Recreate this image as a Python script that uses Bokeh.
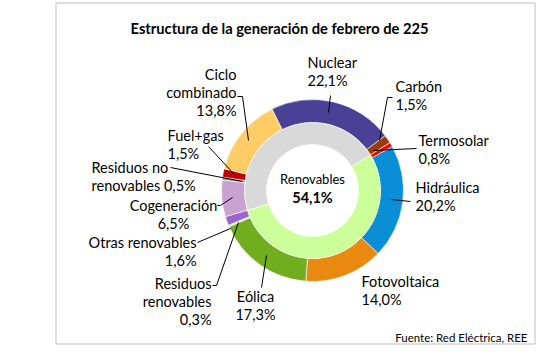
import numpy as np
from bokeh.plotting import figure
from bokeh.models import Range1d, ColumnDataSource
from bokeh.core.properties import value
from bokeh.embed import file_html
from bokeh.resources import INLINE

W, H = 541, 357

title = "Estructura de la generación de febrero de 225"
source_note = "Fuente: Red Eléctrica, REE"

categories = ["Nuclear", "Carbón", "Termosolar", "Hidráulica", "Fotovoltaica", "Eólica",
              "Residuos renovables", "Otras renovables", "Cogeneración",
              "Residuos no renovables", "Fuel+gas", "Ciclo combinado"]
shares = [22.1, 1.5, 0.8, 20.2, 14.0, 17.3, 0.3, 1.6, 6.5, 0.5, 1.5, 13.8]
label_names = ["Nuclear", "Carbón", "Termosolar", "Hidráulica", "Fotovoltaica", "Eólica",
               "Residuos\nrenovables", "Otras renovables", "Cogeneración",
               "Residuos no\nrenovables", "Fuel+gas", "Ciclo\ncombinado"]
pct_same_line = [False, False, False, False, False, False,
                 False, False, False, True, False, False]
colors = ["#4A4196", "#9A3B0C", "#FF0000", "#0A8FD6", "#E9890F", "#70AD1F",
          "#D6E8B8", "#9966CC", "#C9A2D2", "#8C8C8C", "#C00000", "#FFCC66"]

inner_labels = ["Renovables", "No renovables"]
inner_shares = [54.1, 45.9]
inner_colors = ["#CCFF99", "#D9D9D9"]
first_renewable = "Termosolar"

# ---- layout (pixel coordinates, y measured from top) ----
CX, CY = 312, 190
R_OUT, R_MID, R_IN = 91, 68, 46
START_DEG = -26.5   # clockwise from 12 o'clock where first slice begins
LINE_H = 18

label_pos = [(307, 62, "left"), (395, 86, "left"), (418, 140, "left"),
             (415, 187, "left"), (361, 281, "left"), (255, 296, "center"),
             (211, 283, "right"), (196, 242, "right"), (173, 205, "center"),
             (91, 167, "left"), (167, 135, "left"), (236, 74, "right")]

leaders = [
    [(330, 95), (328, 112)],
    [(392, 97), (387, 97), (379, 140)],
    [(416, 148), (373, 150)],
    [(410, 201), (391, 199)],
    None,
    [(266, 255), (261, 287)],
    [(212, 285), (216, 285), (238, 222)],
    [(197, 242), (230, 228)],
    [(217, 205), (220, 205), (232, 197)],
    [(170, 167), (242, 181)],
    [(208, 146), (233, 173)],
    [(237, 96), (242, 96), (248, 140)],
]


def fy(y):
    return H - y


p = figure(width=W, height=H, x_range=Range1d(0, W), y_range=Range1d(0, H),
           min_border=0, toolbar_location=None, output_backend="svg")
p.axis.visible = False
p.grid.visible = False
p.outline_line_color = None
p.background_fill_color = "white"
p.border_fill_color = "white"

# frame
p.quad(left=55.5, right=534.5, top=fy(2.5), bottom=fy(343.5),
       fill_color=None, line_color="#BFBFBF", line_width=1)

# outer ring
total = sum(shares)
cum = np.concatenate([[0], np.cumsum(shares)])
a0 = START_DEG + cum[:-1] / total * 360.0
a1 = START_DEG + cum[1:] / total * 360.0
outer = ColumnDataSource(dict(
    start=np.radians(90 - a0), end=np.radians(90 - a1), color=colors))
p.annular_wedge(x=CX, y=fy(CY), inner_radius=R_MID, outer_radius=R_OUT,
                start_angle="start", end_angle="end", direction="clock",
                fill_color="color", line_color="white", line_width=0.6,
                source=outer)

# inner ring
i0 = a0[categories.index(first_renewable)]
icum = np.concatenate([[0], np.cumsum(inner_shares)])
itot = sum(inner_shares)
ia0 = i0 + icum[:-1] / itot * 360.0
ia1 = i0 + icum[1:] / itot * 360.0
inner = ColumnDataSource(dict(
    start=np.radians(90 - ia0), end=np.radians(90 - ia1), color=inner_colors))
p.annular_wedge(x=CX, y=fy(CY), inner_radius=R_IN, outer_radius=R_MID,
                start_angle="start", end_angle="end", direction="clock",
                fill_color="color", line_color="white", line_width=0.6,
                source=inner)

# leaders
xs, ys = [], []
for ld in leaders:
    if ld is None:
        continue
    xs.append([q[0] for q in ld])
    ys.append([fy(q[1]) for q in ld])
p.multi_line(xs=xs, ys=ys, line_color="black", line_width=1)

# labels
FONT = value("Lato")
rows = {"left": dict(x=[], y=[], t=[]), "center": dict(x=[], y=[], t=[]),
        "right": dict(x=[], y=[], t=[])}
for name, v, same, (lx, ly, al) in zip(label_names, shares, pct_same_line, label_pos):
    pct = f"{v:.1f}".replace(".", ",") + "%"
    lines = name.split("\n")
    if same:
        lines[-1] = lines[-1] + " " + pct
    else:
        lines.append(pct)
    for k, ln in enumerate(lines):
        rows[al]["x"].append(lx)
        rows[al]["y"].append(fy(ly + k * LINE_H))
        rows[al]["t"].append(ln)
for al, d in rows.items():
    if not d["t"]:
        continue
    p.text(x=d["x"], y=d["y"], text=d["t"], text_align=al, text_baseline="middle",
           text_font=FONT, text_font_size="14.5px", text_color="#000000")

# centre
p.text(x=[CX], y=[fy(178)], text=[inner_labels[0]], text_align="center",
       text_baseline="middle", text_font=FONT, text_font_size="13px",
       text_color="#000000")
p.text(x=[CX], y=[fy(197)], text=[f"{inner_shares[0]:.1f}".replace(".", ",") + "%"],
       text_align="center", text_baseline="middle", text_font=FONT,
       text_font_size="14.5px", text_font_style="bold", text_color="#000000")

# title and note
p.text(x=[279], y=[fy(27)], text=[title], text_align="center", text_baseline="middle",
       text_font=FONT, text_font_size="14.7px", text_font_style="bold",
       text_color="#000000")
p.text(x=[527], y=[fy(337)], text=[source_note], text_align="right",
       text_baseline="middle", text_font=FONT, text_font_size="11.5px",
       text_color="#000000")

open("out.html", "w").write(file_html(p, INLINE))
